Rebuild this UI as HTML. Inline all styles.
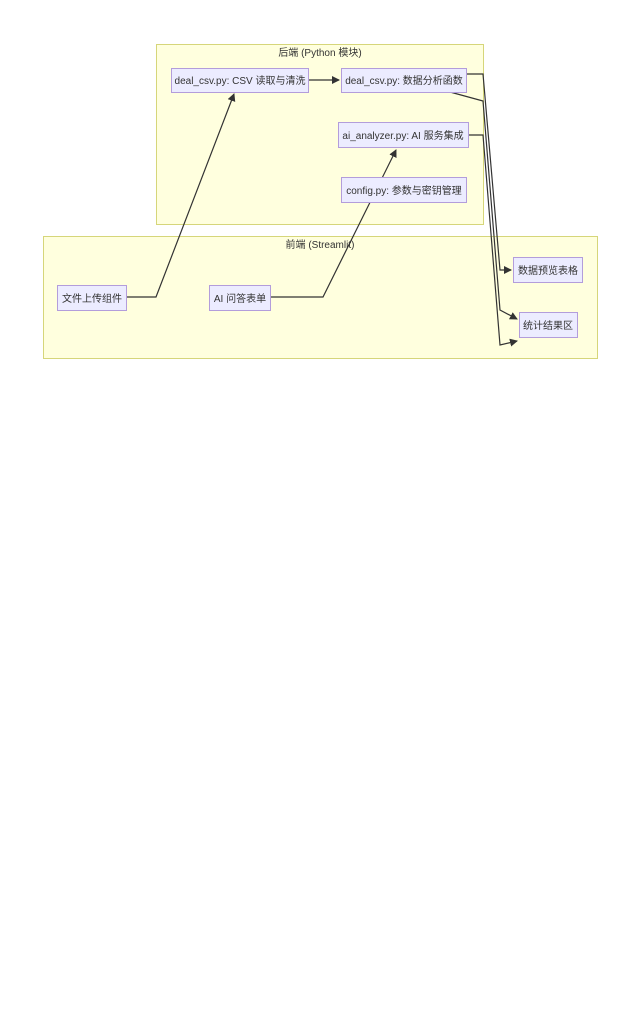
<!DOCTYPE html>
<html><head><meta charset="utf-8"><style>
body{margin:0;background:#fff;width:640px;height:1012px;overflow:hidden}
svg text{font-family:"Liberation Sans","Noto Sans CJK SC",sans-serif;font-size:10px;fill:#333}
</style></head><body>
<svg width="640" height="1012" xmlns="http://www.w3.org/2000/svg">
<defs><marker id="a" markerWidth="8" markerHeight="8" refX="7" refY="4" orient="auto" markerUnits="userSpaceOnUse"><path d="M0,0L8,4L0,8z" fill="#333"/></marker></defs>
<rect x="156.5" y="44.5" width="327" height="180" fill="#ffffde" stroke="#d6d67a"/>
<rect x="43.5" y="236.5" width="554" height="122" fill="#ffffde" stroke="#d6d67a"/>
<text x="320" y="56" text-anchor="middle">后端 (Python 模块)</text>
<text x="320" y="248" text-anchor="middle">前端 (Streamlit)</text>
<g fill="none" stroke="#333" stroke-width="1.2">
<path d="M308,80H339" marker-end="url(#a)"/>
<path d="M126,297H156L234,94" marker-end="url(#a)"/>
<path d="M270,297H323L396,150" marker-end="url(#a)"/>
<path d="M466,74H483L500,270H511" marker-end="url(#a)"/>
<path d="M450,92L483,101L500,310L517,319" marker-end="url(#a)"/>
<path d="M468,135H483L500,345L517,341" marker-end="url(#a)"/>
</g>
<g fill="#ececff" stroke="#b39ddb">
<rect x="171.5" y="68.5" width="137" height="24"/>
<rect x="341.5" y="68.5" width="125" height="24"/>
<rect x="338.5" y="122.5" width="130" height="25"/>
<rect x="341.5" y="177.5" width="125" height="25"/>
<rect x="57.5" y="285.5" width="69" height="25"/>
<rect x="209.5" y="285.5" width="61" height="25"/>
<rect x="513.5" y="257.5" width="69" height="25"/>
<rect x="519.5" y="312.5" width="58" height="25"/>
</g>
<text x="240" y="84" text-anchor="middle">deal_csv.py: CSV 读取与清洗</text>
<text x="404" y="84" text-anchor="middle">deal_csv.py: 数据分析函数</text>
<text x="403" y="139" text-anchor="middle">ai_analyzer.py: AI 服务集成</text>
<text x="404" y="194" text-anchor="middle">config.py: 参数与密钥管理</text>
<text x="92" y="302" text-anchor="middle">文件上传组件</text>
<text x="240" y="302" text-anchor="middle">AI 问答表单</text>
<text x="548" y="274" text-anchor="middle">数据预览表格</text>
<text x="548" y="329" text-anchor="middle">统计结果区</text>
</svg>
</body></html>
